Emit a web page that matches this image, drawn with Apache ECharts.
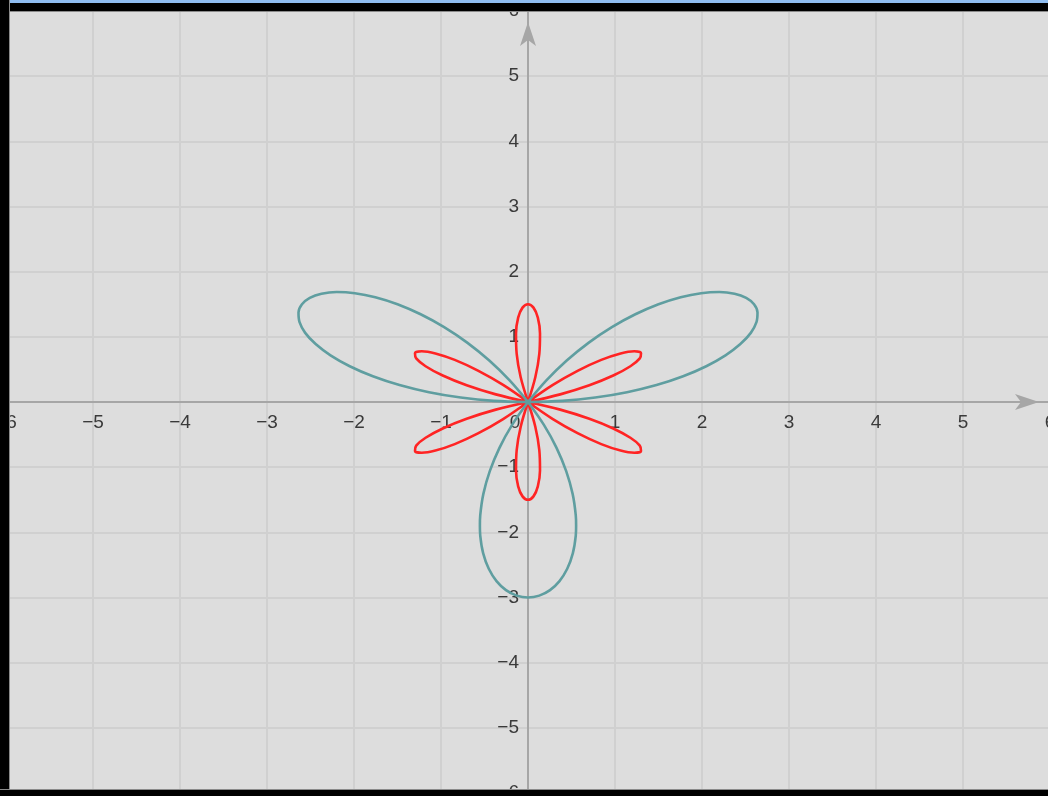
<!DOCTYPE html>
<html>
<head>
<meta charset="utf-8">
<title>rose curves</title>
<script src="https://cdn.jsdelivr.net/npm/echarts@6/dist/echarts.min.js"></script>
<style>
  html, body { margin: 0; padding: 0; background: #000; }
  #wrap { position: relative; width: 1048px; height: 796px; overflow: hidden; }
  #chart { position: absolute; left: 0; top: 0; width: 1048px; height: 796px; }
  .frame { position: absolute; z-index: 10; box-sizing: border-box; }
</style>
</head>
<body>
<div id="wrap">
  <div id="chart"></div>
  <!-- window frame round the screenshot -->
  <div class="frame" style="left:0;top:0;width:1048px;height:12px;background:#000;border-bottom:1px solid #8a8a8a"></div>
  <div class="frame" style="left:0;top:0;width:1048px;height:3px;background:#8fbdf0"></div>
  <div class="frame" style="left:0;top:0;width:10px;height:796px;background:#000;border-right:1px solid #8a8a8a"></div>
  <div class="frame" style="left:0;top:789px;width:1048px;height:7px;background:#000;border-top:1px solid #8a8a8a"></div>
</div>
<script>
// axis range
const axisMin = -6
const axisMax = 6
const axisStep = 1

// teal curve, three big petals
const tealRight = [[0, 0], [0.392, 0.017], [0.773, 0.068], [1.138, 0.150], [1.477, 0.260], [1.783, 0.395],
  [2.049, 0.549], [2.270, 0.716], [2.441, 0.889], [2.561, 1.061], [2.626, 1.225], [2.638, 1.373],
  [2.598, 1.5], [2.508, 1.598], [2.374, 1.662], [2.199, 1.688], [1.990, 1.670], [1.755, 1.608],
  [1.5, 1.5], [1.234, 1.346], [0.964, 1.149], [0.699, 0.911], [0.445, 0.636], [0.211, 0.331], [0, 0]]
const tealBottom = [[0, 0], [-0.181, -0.348], [-0.328, -0.703], [-0.439, -1.061], [-0.513, -1.410], [-0.549, -1.741],
  [-0.553, -1.899], [-0.549, -2.049], [-0.515, -2.324], [-0.451, -2.559], [-0.362, -2.748], [-0.253, -2.887],
  [-0.130, -2.971], [0, -3], [0.130, -2.971], [0.253, -2.887], [0.362, -2.748], [0.451, -2.559],
  [0.515, -2.324], [0.549, -2.049], [0.553, -1.899], [0.549, -1.741], [0.513, -1.410], [0.439, -1.061],
  [0.328, -0.703], [0.181, -0.348], [0, 0]]
const tealLeft = [[0, 0], [-0.211, 0.331], [-0.445, 0.636], [-0.699, 0.911], [-0.964, 1.149], [-1.234, 1.346],
  [-1.5, 1.5], [-1.755, 1.608], [-1.990, 1.670], [-2.199, 1.688], [-2.374, 1.662], [-2.508, 1.598],
  [-2.598, 1.5], [-2.638, 1.373], [-2.626, 1.225], [-2.561, 1.061], [-2.441, 0.889], [-2.270, 0.716],
  [-2.049, 0.549], [-1.783, 0.395], [-1.477, 0.260], [-1.138, 0.150], [-0.773, 0.068], [-0.392, 0.017], [0, 0]]

// red curve, six thin petals
const red30 = [[0, 0], [0.370, 0.117], [0.705, 0.257], [0.980, 0.406], [1.177, 0.549], [1.285, 0.669],
  [1.299, 0.75], [1.222, 0.779], [1.064, 0.745], [0.842, 0.646], [0.575, 0.482], [0.286, 0.262], [0, 0]]
const red90 = [[0, 0], [0.084, 0.379], [0.130, 0.739], [0.138, 1.052], [0.113, 1.294], [0.063, 1.448],
  [0, 1.5], [-0.063, 1.448], [-0.113, 1.294], [-0.138, 1.052], [-0.130, 0.739], [-0.084, 0.379], [0, 0]]
const red150 = [[0, 0], [-0.286, 0.262], [-0.575, 0.482], [-0.842, 0.646], [-1.064, 0.745], [-1.222, 0.779],
  [-1.299, 0.75], [-1.285, 0.669], [-1.177, 0.549], [-0.980, 0.406], [-0.705, 0.257], [-0.370, 0.117], [0, 0]]
const red210 = [[0, 0], [-0.370, -0.117], [-0.705, -0.257], [-0.980, -0.406], [-1.177, -0.549], [-1.285, -0.669],
  [-1.299, -0.75], [-1.222, -0.779], [-1.064, -0.745], [-0.842, -0.646], [-0.575, -0.482], [-0.286, -0.262], [0, 0]]
const red270 = [[0, 0], [-0.084, -0.379], [-0.130, -0.739], [-0.138, -1.052], [-0.113, -1.294], [-0.063, -1.448],
  [0, -1.5], [0.063, -1.448], [0.113, -1.294], [0.138, -1.052], [0.130, -0.739], [0.084, -0.379], [0, 0]]
const red330 = [[0, 0], [0.286, -0.262], [0.575, -0.482], [0.842, -0.646], [1.064, -0.745], [1.222, -0.779],
  [1.299, -0.75], [1.285, -0.669], [1.177, -0.549], [0.980, -0.406], [0.705, -0.257], [0.370, -0.117], [0, 0]]

const redPetals = [red30, red90, red150, red210, red270, red330]
const tealPetals = [tealRight, tealBottom, tealLeft]

const RED = '#ff2424'
const TEAL = '#5f9ea0'
const LABEL_FONT = "'Liberation Sans', 'DejaVu Sans', sans-serif"
const LABEL_COLOR = '#3a3a3a'

// plot box: x -6..6 over 1044px, y -6..6 over 782px
const GRID_LEFT = 6, GRID_TOP = 11, GRID_W = 1044, GRID_H = 782

function minus(v) {
  return String(v).replace('-', '\u2212')
}

function petalSeries(data, color) {
  return {
    type: 'line',
    data: data,
    smooth: 0.35,
    showSymbol: false,
    silent: true,
    lineStyle: { color: color, width: 2.6 }
  }
}

function axisLine(endOffset) {
  return {
    onZero: false,
    symbol: ['none', 'arrow'],
    symbolSize: [12, 24],
    symbolOffset: [0, endOffset],
    lineStyle: { color: '#a6a6a6', width: 2 }
  }
}

let series = []
redPetals.forEach(p => series.push(petalSeries(p, RED)))
tealPetals.forEach(p => series.push(petalSeries(p, TEAL)))

const option = {
  animation: false,
  backgroundColor: '#dddddd',
  grid: {
    left: GRID_LEFT, top: GRID_TOP, width: GRID_W, height: GRID_H,
    containLabel: false,
    outerBoundsMode: 'none'
  },
  xAxis: {
    type: 'value',
    min: axisMin,
    max: axisMax,
    interval: axisStep,
    position: 'bottom',
    // move the axis up to y = 0
    offset: -GRID_H / 2,
    axisTick: { show: false },
    axisLine: axisLine(-11),
    splitLine: { show: true, lineStyle: { color: '#d0d0d0', width: 2 } },
    axisLabel: {
      margin: 11,
      fontSize: 19,
      fontFamily: LABEL_FONT,
      color: LABEL_COLOR,
      showMinLabel: true,
      showMaxLabel: true,
      hideOverlap: false,
      formatter: v => v === 0 ? '{o|0}' : minus(v),
      rich: {
        o: { padding: [0, 26, 0, 0], fontSize: 19, fontFamily: LABEL_FONT, color: LABEL_COLOR }
      }
    }
  },
  yAxis: {
    type: 'value',
    min: axisMin,
    max: axisMax,
    interval: axisStep,
    position: 'left',
    // move the axis right to x = 0
    offset: -GRID_W / 2,
    axisTick: { show: false },
    axisLine: axisLine(-11),
    splitLine: { show: true, lineStyle: { color: '#d0d0d0', width: 2 } },
    axisLabel: {
      margin: 9,
      fontSize: 19,
      fontFamily: LABEL_FONT,
      color: LABEL_COLOR,
      showMinLabel: true,
      showMaxLabel: true,
      hideOverlap: false,
      formatter: v => v === 0 ? '' : minus(v)
    }
  },
  series: series
}

echarts.init(document.getElementById('chart')).setOption(option)
</script>
</body>
</html>
